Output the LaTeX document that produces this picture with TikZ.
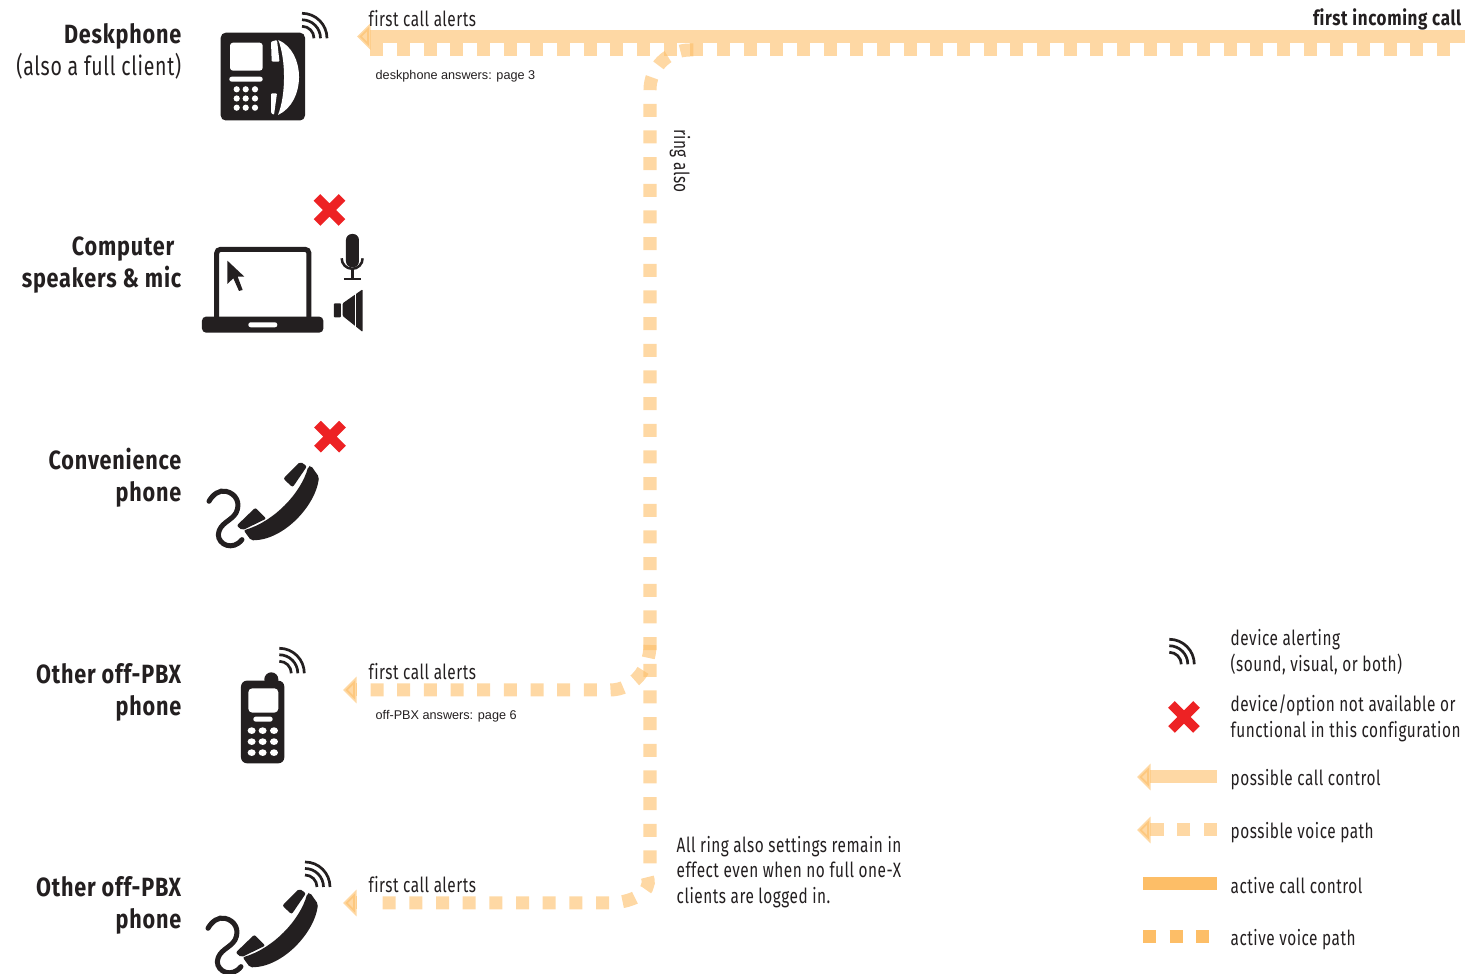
\documentclass[tikz,border=0pt]{standalone}
\usepackage{fontspec}
\setmainfont{Fira Sans}[FakeStretch=0.74,LetterSpace=2.5,Ligatures=NoCommon,BoldFeatures={FakeStretch=0.82,LetterSpace=3}]
\newfontfamily\plainfont{Liberation Sans}
\usetikzlibrary{arrows.meta}
\definecolor{inkgray}{RGB}{35,31,32}
\definecolor{pathorange}{RGB}{253,190,103}
\definecolor{crossred}{RGB}{237,34,36}

\begin{document}
\begin{tikzpicture}[
  x=0.01cm,y=0.01cm,text=inkgray,
  devlabel/.style={font=\fontsize{7.5}{9.1}\selectfont\bfseries,align=right,anchor=east,inner sep=0pt},
  note/.style={font=\fontsize{5.9}{7.35}\selectfont,align=left,anchor=west,inner sep=0pt},
  tiny/.style={font=\fontsize{3.6}{4.5}\selectfont\plainfont,anchor=west,inner sep=0pt},
  possible/.style={draw=pathorange,line width=0.13cm,opacity=0.6},
  active/.style={draw=pathorange,line width=0.13cm},
  voice/.style={dash pattern=on 0.13cm off 0.1365cm},
  head/.style={possible,-{Triangle[length=0.135cm,width=0.26cm]}},
  waves/.pic={
    \draw[inkgray,line width=0.027cm]
      (0,25) arc[start angle=90,end angle=0,radius=25]
      (0,18.5) arc[start angle=90,end angle=0,radius=18.5]
      (0,12) arc[start angle=90,end angle=0,radius=12];
  },
  redx/.pic={
    \draw[crossred,line width=0.095cm] (-12.5,-12.5) -- (12.5,12.5) (-12.5,12.5) -- (12.5,-12.5);
  },
  deskset/.pic={
    \fill[inkgray,rounded corners=0.05cm] (0.7,-32.7) rectangle (85,-120.5);
    \fill[white,rounded corners=0.03cm] (10,-42.7) rectangle (42.7,-70.7);
    \fill[white,rounded corners=0.024cm] (9.3,-76.7) rectangle (42.7,-81.7);
    \foreach \kx in {16.7,25.7,35} \foreach \ky in {-89.3,-98.5,-107.7}
      \fill[white] (\kx,\ky) circle (3.1);
    \fill[white,rounded corners=0.01cm] (51,-41.7) -- (57,-40) -- (59.5,-61.7) -- (51.7,-61.7) -- cycle;
    \fill[white,rounded corners=0.01cm] (51,-93.3) -- (57,-93.3) -- (54,-115) -- (51,-113) -- cycle;
    \fill[white] (58.3,-40) .. controls (86,-52) and (86,-102) .. (58,-115)
      .. controls (66,-95) and (66,-60) .. (58.3,-40) -- cycle;
  },
  laptop/.pic={
    \begin{scope}[scale=0.3333]
      \draw[inkgray,line width=0.05cm,rounded corners=0.04cm] (80,-415) -- (80,-208) -- (357,-208) -- (357,-415);
      \fill[inkgray,rounded corners=0.04cm] (36,-410) rectangle (400,-458);
      \fill[white,rounded corners=0.024cm] (175,-427) rectangle (262,-442);
      \fill[inkgray] (112,-242) -- (163,-290) -- (143,-290) -- (158,-330) -- (147,-333) -- (130,-295) -- (112,-312) -- cycle;
      \fill[inkgray,rounded corners=0.06cm] (468,-162) rectangle (507,-262);
      \draw[inkgray,line width=0.025cm] (455,-235) arc[start angle=180,end angle=360,radius=31.5];
      \draw[inkgray,line width=0.025cm] (487,-266) -- (487,-297) (462,-297) -- (512,-297);
      \fill[inkgray,rounded corners=0.008cm] (432,-370) rectangle (453,-412);
      \fill[inkgray,rounded corners=0.01cm] (458,-370) -- (518,-328) -- (518,-456) -- (458,-408) -- cycle;
      \draw[white,line width=0.014cm] (497,-335) -- (497,-445);
    \end{scope}
  },
  handset/.pic={
    \begin{scope}[scale=0.3333]
      \fill[inkgray,rounded corners=0.02cm] (322,-130) .. controls (300,-210) and (220,-295) .. (128,-322)
        -- (150,-352) .. controls (250,-352) and (345,-245) .. (354,-162) -- (330,-128) -- cycle;
      \fill[inkgray,rounded corners=0.02cm] (298,-116) -- (318,-130) -- (275,-193) -- (247,-167) -- cycle;
      \fill[inkgray,rounded corners=0.02cm] (163,-254) -- (196,-287) -- (124,-322) -- (107,-308) -- cycle;
      \draw[inkgray,line width=0.05cm,line cap=round] (24,-235) .. controls (35,-215) and (55,-200) .. (75,-205)
        .. controls (105,-212) and (120,-240) .. (105,-270) .. controls (90,-295) and (55,-300) .. (52,-335)
        .. controls (52,-365) and (95,-385) .. (123,-350);
    \end{scope}
  },
  mobile/.pic={
    \begin{scope}[scale=0.3333]
      \fill[inkgray,rounded corners=0.07cm] (133,-97) rectangle (175,-140);
      \fill[inkgray,rounded corners=0.06cm] (63,-122) rectangle (193,-370);
      \fill[white,rounded corners=0.04cm] (85,-145) rectangle (175,-218);
      \fill[white,rounded corners=0.024cm] (100,-230) rectangle (158,-245);
      \foreach \kx in {95,128,162} \foreach \ky in {-272,-305,-338}
        \fill[white] (\kx,\ky) ellipse (12 and 10);
    \end{scope}
  }
]
\useasboundingbox (0,0) rectangle (1465,-974);
% ---------- device labels (left column)
\node[devlabel] (deskname)  at (182,-51)  {Deskphone\\\mdseries (also a full client)};
\node[devlabel] (compname)  at (182,-265) {Computer\hspace*{2pt}\\speakers \& mic};
\node[devlabel] (convname)  at (182,-478) {Convenience\\phone};
\node[devlabel] (mobname)   at (182,-692) {Other off-PBX\\phone};
\node[devlabel] (landname)  at (182,-905) {Other off-PBX\\phone};
% ---------- device icons
\pic (deskicon) at (220,0) {deskset};
\pic (deskwave) at (302,-38.3) {waves};
\pic (compicon) at (190,-180) {laptop};
\pic (compx)    at (329.5,-210) {redx};
\pic (convicon) at (201,-423) {handset};
\pic (convx)    at (330,-436.7) {redx};
\pic (mobicon)  at (220,-640) {mobile};
\pic (mobwave)  at (279.3,-673.3) {waves};
\pic (landicon) at (200,-850) {handset};
\pic (landwave) at (305,-887) {waves};
% ---------- path ends and bends
\coordinate (topin)    at (1465,-36.5);
\coordinate (toptip)   at (357,-36.5);
\coordinate (rowleft)  at (370.4,-49.5);
\coordinate (rowright) at (1450,-49.5);
\coordinate (ringlow)  at (650,-863.5);
\coordinate (ringhigh) at (650,-90);
\coordinate (ringtop)  at (690,-50);
\coordinate (ringend)  at (696.5,-50);
\coordinate (mobstart) at (650,-645);
\coordinate (mobbend)  at (610,-690);
\coordinate (mobleft)  at (370,-690);
\coordinate (mobback)  at (356.5,-690);
\coordinate (mobtip)   at (343,-690);
\coordinate (landstart) at (647.4,-877.2);
\coordinate (landbend) at (610,-903);
\coordinate (landleft) at (376.4,-903);
\coordinate (landback) at (356.5,-903);
\coordinate (landtip)  at (343,-903);
% ---------- call paths
\draw[head] (topin) -- (toptip);
\draw[possible,voice] (rowleft) -- (rowright);
\draw[possible,voice] (ringlow) -- (ringhigh) to[out=90,in=180] (ringtop) -- (ringend);
\draw[possible,voice] (mobstart) to[out=-90,in=0] (mobbend) -- (mobleft);
\draw[head] (mobback) -- (mobtip);
\draw[possible,voice] (landstart) to[out=-70,in=0] (landbend) -- (landleft);
\draw[head] (landback) -- (landtip);
% ---------- path labels
\node[note] (firsttop) at (368,-18.5) {first call alerts};
\node[note,font=\fontsize{5.9}{7.35}\selectfont\bfseries,anchor=east] (incoming) at (1462,-19) {first incoming call};
\node[tiny] (deskans) at (375,-76.5) {deskphone answers: page 3};
\node[note,anchor=center,rotate=-90] (ringalso) at (680,-161) {ring also};
\node[note] (firstmob) at (368,-672) {first call alerts};
\node[tiny] (mobans) at (375,-716.5) {off-PBX answers: page 6};
\node[note] (firstland) at (368,-885) {first call alerts};
\node[note] (ringnote) at (676,-872) {All ring also settings remain in\\effect even when no full one-X\\clients are logged in.};
% ---------- legend
\pic (keywave) at (1169.3,-664.3) {waves};
\pic (keyx)    at (1184,-717) {redx};
\coordinate (ccright) at (1217,-777);
\coordinate (cctip)   at (1137,-777);
\coordinate (vpright) at (1217,-830);
\coordinate (vpleft)  at (1150.7,-830);
\coordinate (vptip)   at (1137,-830);
\coordinate (acright) at (1217,-883.5);
\coordinate (acleft)  at (1143,-883.5);
\coordinate (avright) at (1210,-936.5);
\coordinate (avleft)  at (1143,-936.5);
\draw[head] (ccright) -- (cctip);
\draw[possible,voice] (vpright) -- (vpleft);
\draw[head] (vpleft) -- (vptip);
\draw[active] (acleft) -- (acright);
\draw[active,voice] (avleft) -- (avright);
\node[note] (keyalert) at (1230,-652.5) {device alerting\\(sound, visual, or both)};
\node[note] (keyoff)   at (1230,-718.5) {device/option not available or\\functional in this configuration};
\node[note] (keycc)    at (1230,-780)   {possible call control};
\node[note] (keyvp)    at (1230,-833)   {possible voice path};
\node[note] (keyac)    at (1230,-886)   {active call control};
\node[note] (keyav)    at (1230,-940)   {active voice path};
\end{tikzpicture}
\end{document}
